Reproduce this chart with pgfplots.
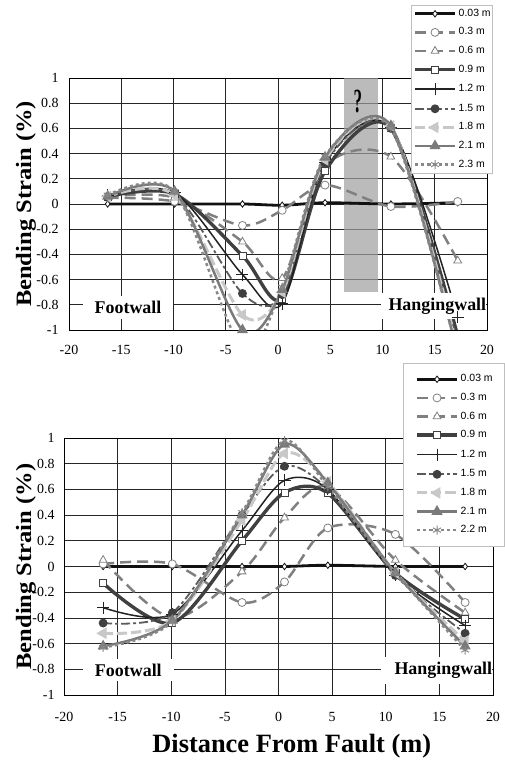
\documentclass[border=0pt]{standalone}
\usepackage{pgfplots}
\pgfplotsset{compat=1.18}
\usepackage{fontspec}
\setmainfont{Liberation Serif}
\newfontfamily\legendfont{Liberation Sans}
\definecolor{cA}{HTML}{111111}
\definecolor{cB}{HTML}{808080}
\definecolor{cC}{HTML}{404040}
\definecolor{cD}{HTML}{222222}
\definecolor{cE}{HTML}{5A5A5A}
\definecolor{cF}{HTML}{C8C8C8}
\definecolor{cG}{HTML}{7A7A7A}
\definecolor{cH}{HTML}{888888}
\pgfplotsset{
  myaxis/.style={
    scale only axis,
    xmin=-20, xmax=20, ymin=-1, ymax=1,
    xtick={-20,-15,-10,-5,0,5,10,15,20},
    xticklabels={-20,-15,-10,-5,0,5,10,15,20},
    ytick={-1,-0.8,-0.6,-0.4,-0.2,0,0.2,0.4,0.6,0.8,1},
    yticklabels={-1,-0.8,-0.6,-0.4,-0.2,0,0.2,0.4,0.6,0.8,1},
    grid=major,
    major grid style={black!85, line width=0.6bp},
    axis line style={black, line width=0.8bp},
    major tick length=0pt,
    tick label style={font=\fontsize{14}{16}\selectfont},
    xticklabel style={yshift=-12bp},
    ylabel={\scalebox{1.12}[1]{\bfseries Bending Strain (\%)}},
    ylabel style={font=\fontsize{22}{24}\selectfont, anchor=center},
    legend style={font=\legendfont\fontsize{10.5}{12}\selectfont, draw=black!25, line width=0.6bp, fill=white,
      nodes={text height=7.6bp, text depth=2.4bp, inner sep=0pt},
      row sep=8.6bp, column sep=2bp, cells={anchor=west}},
    legend image code/.code={\draw[mark repeat=2,mark phase=2] plot coordinates {(0bp,0bp) (20bp,0bp) (40bp,0bp)};},
  },
  s003/.style={color=cA, line width=2.8bp, smooth, mark=diamond*, mark size=3.2bp, mark options={fill=white, draw=cA, line width=0.8bp, solid}},
  s03/.style={color=cB, line width=2.5bp, smooth, dash pattern=on 11bp off 6bp, mark=*, mark size=4bp, mark options={fill=white, draw=cB, line width=0.8bp, solid}},
  s06/.style={color=cB, line width=2.5bp, smooth, dash pattern=on 11bp off 6bp, mark=triangle*, mark size=4.5bp, mark options={fill=white, draw=cB, line width=0.8bp, solid}},
  s09/.style={color=cC, line width=3.4bp, smooth, mark=square*, mark size=3.5bp, mark options={fill=white, draw=cC, line width=0.8bp, solid}},
  s12/.style={color=cD, line width=1.5bp, smooth, mark=+, mark size=6bp, mark options={line width=1bp, solid}},
  s15/.style={color=cE, line width=1.8bp, smooth, dash pattern=on 9bp off 3bp on 3bp off 3bp, mark=*, mark size=3.5bp, mark options={fill=cC, draw=cC, solid}},
  s18/.style={color=cF, line width=3bp, smooth, dash pattern=on 10bp off 4bp, mark=triangle*, mark size=3.8bp, mark options={rotate=90, fill=cF, draw=cF, solid}},
  s21/.style={color=cG, line width=2.5bp, smooth, mark=triangle*, mark size=4bp, mark options={fill=cG, draw=cG, solid}},
  s23/.style={color=cH, line width=2.5bp, smooth, dash pattern=on 3bp off 3bp, mark=asterisk, mark size=4.5bp, mark options={line width=1bp, solid}},
}
\begin{document}
\begin{tikzpicture}
\path[use as bounding box] (0,0) rectangle (505bp,760bp);
% ---------------- top ----------------
\begin{axis}[myaxis, at={(69bp,430bp)}, anchor=south west, width=418bp, height=252bp,
  ylabel style={at={(axis description cs:-0.103,0.5)}},
  yticklabel style={xshift=-7bp},
  legend style={at={(1.0144,1.2897)}, anchor=north east, inner xsep=2bp, inner ysep=3.5bp}]
\addplot[draw=none, fill=black!38, fill opacity=0.7, forget plot] coordinates {(6.3,-0.7) (9.6,-0.7) (9.6,1) (6.3,1)} -- cycle;
\addplot[s003] coordinates {(-16.3,0) (-9.9,0) (-3.4,0) (0.4,-0.01) (4.5,0.01) (10.8,0) (17.2,0.01)};
\addlegendentry{0.03 m}
\addplot[s03] coordinates {(-16.3,0.05) (-9.9,0.02) (-3.4,-0.17) (0.4,-0.05) (4.5,0.15) (10.8,-0.02) (17.2,0.02)};
\addlegendentry{0.3 m}
\addplot[s06] coordinates {(-16.3,0.06) (-9.9,0.05) (-3.4,-0.30) (0.4,-0.59) (4.5,0.30) (10.8,0.375) (17.2,-0.45)};
\addlegendentry{0.6 m}
\addplot[s09] coordinates {(-16.3,0.06) (-9.9,0.08) (-3.4,-0.41) (0.4,-0.75) (4.5,0.26) (10.8,0.60) (17.2,-1.05)};
\addlegendentry{0.9 m}
\addplot[s12] coordinates {(-16.3,0.07) (-9.9,0.09) (-3.4,-0.56) (0.4,-0.79) (4.5,0.33) (10.8,0.61) (17.2,-0.90)};
\addlegendentry{1.2 m}
\addplot[s15] coordinates {(-16.3,0.06) (-9.9,0.08) (-3.4,-0.71) (0.4,-0.72) (4.5,0.32) (10.8,0.60) (17.2,-1.10)};
\addlegendentry{1.5 m}
\addplot[s18] coordinates {(-16.3,0.06) (-9.9,0.07) (-3.4,-0.88) (0.4,-0.70) (4.5,0.35) (10.8,0.62) (17.2,-1.15)};
\addlegendentry{1.8 m}
\addplot[s21] coordinates {(-16.3,0.06) (-9.9,0.10) (-3.4,-1.00) (0.4,-0.68) (4.5,0.37) (10.8,0.62) (17.2,-1.20)};
\addlegendentry{2.1 m}
\addplot[s23] coordinates {(-16.3,0.07) (-9.9,0.10) (-3.4,-1.15) (0.4,-0.66) (4.5,0.38) (10.8,0.60) (17.2,-1.20)};
\addlegendentry{2.3 m}
\node[fill=white, inner xsep=12bp, inner ysep=5bp, font=\bfseries\fontsize{18}{20}\selectfont] at (axis cs:-14.35,-0.82) {Footwall};
\node[fill=white, anchor=east, inner xsep=0pt, inner ysep=5bp, xshift=-0.6bp, font=\bfseries\fontsize{18}{20}\selectfont] at (axis cs:20,-0.81) {\hspace{8bp}Hangingwall};
\node[font=\bfseries\fontsize{34}{34}\selectfont, xscale=0.5] at (axis cs:7.65,0.81) {?};
\end{axis}
% ---------------- bottom ----------------
\begin{axis}[myaxis, at={(64bp,65bp)}, anchor=south west, width=429bp, height=257bp,
  ylabel style={at={(axis description cs:-0.089,0.5)}},
  yticklabel style={xshift=-6bp},
  xticklabel style={yshift=-2bp},
  xlabel={\bfseries Distance From Fault (m)},
  xlabel style={font=\fontsize{26.5}{28}\selectfont, at={(axis description cs:0.531,-0.2)}, anchor=center},
  legend style={at={(1.028,1.2918)}, anchor=north east, inner xsep=12bp, inner ysep=11bp}]
\addplot[s003] coordinates {(-16.35,0) (-9.9,0) (-3.4,0) (0.56,0) (4.6,0.01) (10.9,0) (17.4,0)};
\addlegendentry{0.03 m}
\addplot[s03] coordinates {(-16.35,0.02) (-9.9,0.02) (-3.4,-0.28) (0.56,-0.12) (4.6,0.30) (10.9,0.25) (17.4,-0.28)};
\addlegendentry{0.3 m}
\addplot[s06] coordinates {(-16.35,0.05) (-9.9,-0.40) (-3.4,-0.04) (0.56,0.38) (4.6,0.62) (10.9,0.05) (17.4,-0.36)};
\addlegendentry{0.6 m}
\addplot[s09] coordinates {(-16.35,-0.13) (-9.9,-0.44) (-3.4,0.20) (0.56,0.575) (4.6,0.57) (10.9,-0.05) (17.4,-0.41)};
\addlegendentry{0.9 m}
\addplot[s12] coordinates {(-16.35,-0.32) (-9.9,-0.37) (-3.4,0.28) (0.56,0.67) (4.6,0.60) (10.9,-0.07) (17.4,-0.46)};
\addlegendentry{1.2 m}
\addplot[s15] coordinates {(-16.35,-0.44) (-9.9,-0.36) (-3.4,0.40) (0.56,0.78) (4.6,0.60) (10.9,-0.07) (17.4,-0.52)};
\addlegendentry{1.5 m}
\addplot[s18] coordinates {(-16.35,-0.52) (-9.9,-0.42) (-3.4,0.36) (0.56,0.88) (4.6,0.66) (10.9,-0.05) (17.4,-0.58)};
\addlegendentry{1.8 m}
\addplot[s21] coordinates {(-16.35,-0.62) (-9.9,-0.42) (-3.4,0.40) (0.56,0.95) (4.6,0.65) (10.9,-0.05) (17.4,-0.62)};
\addlegendentry{2.1 m}
\addplot[s23] coordinates {(-16.35,-0.63) (-9.9,-0.43) (-3.4,0.42) (0.56,0.98) (4.6,0.62) (10.9,-0.05) (17.4,-0.65)};
\addlegendentry{2.2 m}
\node[fill=white, inner xsep=12bp, inner ysep=5bp, font=\bfseries\fontsize{18}{20}\selectfont] at (axis cs:-14,-0.805) {Footwall};
\node[fill=white, anchor=east, inner xsep=0pt, inner ysep=5bp, xshift=-0.6bp, font=\bfseries\fontsize{18}{20}\selectfont] at (axis cs:20,-0.81) {\hspace{14bp}Hangingwall\hspace{6bp}};
\end{axis}
\end{tikzpicture}
\end{document}
